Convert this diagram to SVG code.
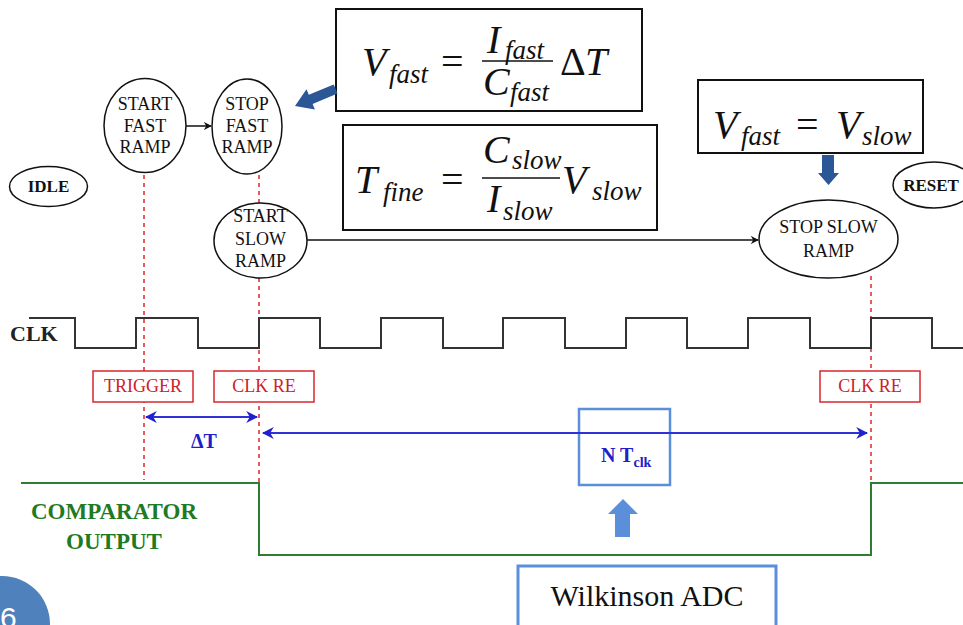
<svg xmlns="http://www.w3.org/2000/svg" width="963" height="625" viewBox="0 0 963 625">
<defs>
<style>
.node ellipse{fill:#fff;stroke:#111;stroke-width:1.5}
.nl{font-size:18px;fill:#111;text-anchor:middle}
.nb{font-size:17px;font-weight:bold;fill:#111;text-anchor:middle}
.red{font-size:18px;fill:#cc2229;text-anchor:middle}
.redbox{fill:#fff;stroke:#d8262c;stroke-width:1.5}
.dash{stroke:#e0262c;stroke-width:1.5;stroke-dasharray:4,4;fill:none}
.blue{font-weight:bold;fill:#2020c8}
.green{font-size:23px;font-weight:bold;fill:#1e7a24;text-anchor:middle}
.eqbox{fill:#fff;stroke:#111;stroke-width:2}
.m{font-style:italic;font-size:40px;fill:#111}
.s{font-style:italic;font-size:27px;fill:#111}
.u{font-size:40px;fill:#111}
.conn{stroke:#111;stroke-width:1.5;fill:none}
.barrow{stroke:#3030d8;stroke-width:2;fill:none}
</style>
<marker id="ah" viewBox="0 0 10 10" refX="9" refY="5" markerWidth="8" markerHeight="8" orient="auto-start-reverse" markerUnits="userSpaceOnUse">
<path d="M0,0 L10,5 L0,10 L3,5 z" fill="#111"/>
</marker>
<marker id="bh" viewBox="0 0 10 10" refX="9" refY="5" markerWidth="12" markerHeight="12" orient="auto-start-reverse" markerUnits="userSpaceOnUse">
<path d="M0,0 L10,5 L0,10 L3,5 z" fill="#2020d0"/>
</marker>
</defs>
<rect width="963" height="625" fill="#fff"/>
<g font-family="Liberation Serif, serif">

<!-- red dashed guide lines -->
<g id="guides">
<line class="dash" x1="144" y1="175" x2="144" y2="480"/>
<line class="dash" x1="259" y1="175" x2="259" y2="204"/>
<line class="dash" x1="259" y1="278" x2="259" y2="485"/>
<line class="dash" x1="871" y1="276" x2="871" y2="485"/>
</g>

<!-- CLK waveform -->
<g id="clk">
<text x="10" y="341" font-size="22" font-weight="bold" fill="#222">CLK</text>
<polyline fill="none" stroke="#333" stroke-width="2" points="29,318 75,318 75,348 136,348 136,318 198,318 198,348 259,348 259,318 320,318 320,348 381,348 381,318 443,318 443,348 503,348 503,318 565,318 565,348 626,348 626,318 687,318 687,348 748,348 748,318 810,318 810,348 871,348 871,318 932,318 932,348 963,348"/>
</g>

<!-- red labels -->
<g id="trigger">
<rect class="redbox" x="93" y="371" width="100" height="31"/>
<text class="red" x="143" y="392">TRIGGER</text>
</g>
<g id="clkre1">
<rect class="redbox" x="214" y="371" width="100" height="31"/>
<text class="red" x="264" y="392">CLK RE</text>
</g>
<g id="clkre2">
<rect class="redbox" x="820" y="371" width="100" height="31"/>
<text class="red" x="870" y="392">CLK RE</text>
</g>

<!-- comparator output -->
<g id="comparator">
<polyline fill="none" stroke="#2e7d32" stroke-width="2" points="21,483 259,483 259,555 871,555 871,483 963,483"/>
<text class="green" x="114" y="519">COMPARATOR</text>
<text class="green" x="114" y="549">OUTPUT</text>
</g>

<!-- NTclk box -->
<g id="ntclk">
<rect x="579" y="409" width="91" height="76" fill="none" stroke="#5b8fd9" stroke-width="2.5"/>
<text class="blue" x="601" y="462" font-size="20">N T<tspan font-size="14" dy="5">clk</tspan></text>
</g>

<!-- nodes -->
<g id="idle" class="node">
<ellipse cx="48.5" cy="186.5" rx="39" ry="20"/>
<text class="nb" x="48.5" y="192">IDLE</text>
</g>
<g id="start-fast" class="node">
<ellipse cx="145" cy="125.5" rx="41" ry="47"/>
<text class="nl" x="145" y="110">START</text>
<text class="nl" x="145" y="132">FAST</text>
<text class="nl" x="145" y="153">RAMP</text>
</g>
<g id="stop-fast" class="node">
<ellipse cx="247" cy="126.5" rx="35" ry="47.5"/>
<text class="nl" x="247" y="110">STOP</text>
<text class="nl" x="247" y="132">FAST</text>
<text class="nl" x="247" y="153">RAMP</text>
</g>
<g id="start-slow" class="node">
<ellipse cx="260.5" cy="240.5" rx="46.5" ry="37.5"/>
<text class="nl" x="260.5" y="222">START</text>
<text class="nl" x="260.5" y="245">SLOW</text>
<text class="nl" x="260.5" y="267">RAMP</text>
</g>
<g id="stop-slow" class="node">
<ellipse cx="828.5" cy="239" rx="69.5" ry="39"/>
<text class="nl" x="828.5" y="233">STOP SLOW</text>
<text class="nl" x="828.5" y="257">RAMP</text>
</g>
<g id="reset" class="node">
<ellipse cx="934" cy="185" rx="41" ry="23"/>
<text class="nb" x="931" y="191">RESET</text>
</g>

<!-- connectors -->
<g id="connectors">
<line class="conn" x1="186" y1="126" x2="211" y2="126" marker-end="url(#ah)"/>
<line class="conn" x1="307" y1="240" x2="758" y2="240" marker-end="url(#ah)"/>
<line class="barrow" x1="146" y1="417" x2="257" y2="417" marker-start="url(#bh)" marker-end="url(#bh)"/>
<line class="barrow" x1="263" y1="433" x2="867" y2="433" marker-start="url(#bh)" marker-end="url(#bh)"/>
</g>
<text class="blue" x="204" y="448" font-size="20" text-anchor="middle">ΔT</text>

<!-- equation boxes -->
<g id="eq-vfast">
<rect class="eqbox" x="336" y="9" width="306" height="102"/>
<text class="m" x="362" y="75">V</text>
<text class="s" x="389" y="83">fast</text>
<text class="u" x="441" y="75">=</text>
<line x1="482" y1="61" x2="553" y2="61" stroke="#111" stroke-width="1.6"/>
<text class="m" x="487" y="53">I</text>
<text class="s" x="505" y="59">fast</text>
<text class="m" x="483" y="95">C</text>
<text class="s" x="510" y="101">fast</text>
<text class="u" x="560" y="75">Δ</text>
<text class="m" x="585" y="75">T</text>
</g>
<g id="eq-tfine">
<rect class="eqbox" x="343" y="125" width="314" height="105"/>
<text class="m" x="355" y="193">T</text>
<text class="s" x="383" y="201">fine</text>
<text class="u" x="441" y="193">=</text>
<line x1="482" y1="178" x2="560" y2="178" stroke="#111" stroke-width="1.6"/>
<text class="m" x="483" y="163">C</text>
<text class="s" x="512" y="169">slow</text>
<text class="m" x="487" y="212">I</text>
<text class="s" x="503" y="220">slow</text>
<text class="m" x="562" y="193">V</text>
<text class="s" x="592" y="200">slow</text>
</g>
<g id="eq-equal">
<rect class="eqbox" x="698" y="80" width="225" height="73"/>
<text class="m" x="713" y="138" font-size="38">V</text>
<text class="s" x="741" y="145" font-size="26">fast</text>
<text class="u" x="796" y="138" font-size="38">=</text>
<text class="m" x="836" y="138" font-size="38">V</text>
<text class="s" x="862" y="145" font-size="26">slow</text>
</g>

<!-- block arrows -->
<polygon fill="#2b5797" points="295,106 306.5,89.3 308.8,94.8 333.7,84.4 337.5,93.6 312.6,104 314.9,109.5"/>
<polygon fill="#2b5797" points="822,155 834,155 834,173 839,173 828.5,185 818,173 822,173"/>
<polygon fill="#5b8fd9" points="623,499 638,514 630,514 630,537 615,537 615,514 608,514"/>

<!-- Wilkinson ADC -->
<g id="wilkinson">
<rect x="518" y="566" width="258" height="70" fill="#fff" stroke="#5b8fd9" stroke-width="3"/>
<text x="647" y="606" font-size="30" fill="#111" text-anchor="middle">Wilkinson ADC</text>
</g>

<!-- page badge -->
<g id="badge">
<circle cx="2" cy="624" r="48" fill="#4f81bd"/>
<text x="0" y="628" font-family="Liberation Sans, Arial, sans-serif" font-size="30" fill="#fff">6</text>
</g>
</g>
</svg>
